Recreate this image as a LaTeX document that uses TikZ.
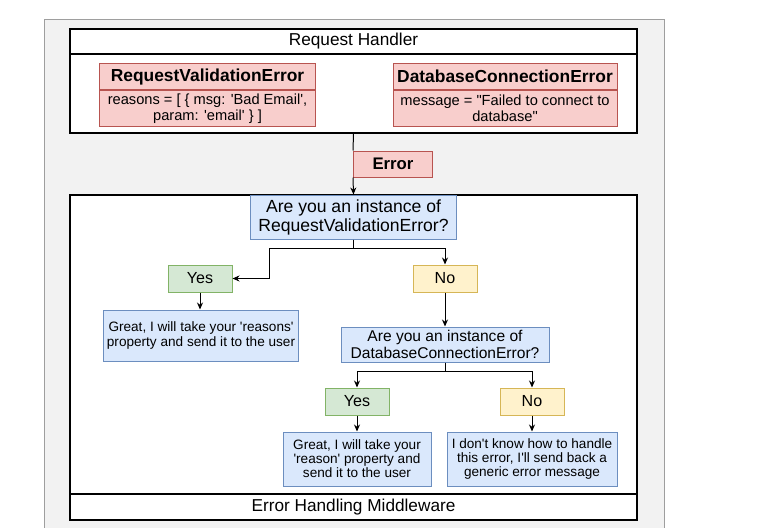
\documentclass[tikz,border=0pt]{standalone}
\usepackage{fontspec}
\setmainfont{Liberation Sans}
\usetikzlibrary{positioning, arrows.meta, calc}
\definecolor{redfill}{HTML}{F8CECC}
\definecolor{redline}{HTML}{B85450}
\definecolor{bluefill}{HTML}{DAE8FC}
\definecolor{blueline}{HTML}{6C8EBF}
\definecolor{greenfill}{HTML}{D5E8D4}
\definecolor{greenline}{HTML}{82B366}
\definecolor{yellowfill}{HTML}{FFF2CC}
\definecolor{yellowline}{HTML}{D6B656}
\definecolor{pagegray}{HTML}{F2F2F2}
\definecolor{pageline}{HTML}{9E9E9E}
\newcommand{\sq}{\textquotesingle}
\newcommand{\dq}{\textquotedbl}

\begin{document}
\begin{tikzpicture}[x=0.03cm, y=-0.03cm, >={Stealth[length=2.1mm, width=1.8mm]}, line width=0.85pt, inner sep=0pt]
\tikzset{
    container/.style={draw=black, fill=white, line width=1pt, minimum width=17.01cm},
    strip/.style={draw=black, line width=1pt, minimum width=17.01cm, font={\fontsize{14.7}{16}\selectfont}},
    redhead/.style={draw=redline, fill=redfill, minimum height=0.78cm, font={\bfseries\fontsize{14.85}{16}\selectfont}},
    redbody/.style={draw=redline, fill=redfill, minimum height=1.08cm, align=center, font={\fontsize{12.5}{13.7}\selectfont}},
    question/.style={draw=blueline, fill=bluefill, align=center},
    answer/.style={draw=blueline, fill=bluefill, align=center, font={\fontsize{11.6}{12}\selectfont}},
    yesbox/.style={draw=greenline, fill=greenfill, minimum width=1.92cm, minimum height=0.81cm, font={\fontsize{13.7}{15}\selectfont}},
    nobox/.style={draw=yellowline, fill=yellowfill, minimum width=1.92cm, minimum height=0.81cm, font={\fontsize{13.7}{15}\selectfont}}
}
\useasboundingbox (0,0) rectangle (762,527);
\fill[white] (0,0) rectangle (762,527);
% page behind the diagram
\fill[pagegray] (44,19) rectangle (664,530);
\draw[pageline] (44,530) -- (44,19) -- (664,19) -- (664,530);

% request handler
\node[container, minimum height=3.12cm] (Handler) at (353.5, 81) {};
\node[strip, minimum height=0.75cm, below=0pt of Handler.north] (HandlerTitle) {Request Handler};
\node[redhead, minimum width=6.45cm] (RveHead) at (207.5, 76.5) {RequestValidationError};
\node[redbody, minimum width=6.45cm, below=0pt of RveHead] (RveBody) {reasons = [ \{ msg: \sq Bad Email\sq,\\param: \sq email\sq\ \} ]};
\node[redhead, minimum width=6.72cm] (DceHead) at (505, 76.5) {DatabaseConnectionError};
\node[redbody, minimum width=6.72cm, below=0pt of DceHead] (DceBody) {message = \dq Failed to connect to\\database\dq};

% error handling middleware
\node[container, minimum height=9.75cm] (Middleware) at (353.5, 357.5) {};
\node[strip, minimum height=0.78cm, above=0pt of Middleware.south] (MiddlewareTitle) {Error Handling Middleware};

\node[redhead, minimum width=2.37cm, font={\bfseries\fontsize{14.3}{16}\selectfont}] (Error) at (393, 164) {Error};
\draw (Handler.south) -- (Error.north west);

\node[question, minimum width=6.18cm, minimum height=1.32cm, font={\fontsize{15}{16.2}\selectfont}] (Q1) at (353.5, 217) {Are you an instance of\\RequestValidationError?};
\draw[->] (Error.south west) -- (Q1.north);

\node[yesbox] (Yes1) at (200, 278.5) {Yes};
\node[nobox] (No1) at (445, 278.5) {No};
\node[answer, minimum width=5.82cm, minimum height=1.53cm] (Great1) at (201, 335.5) {Great, I will take your \sq reasons\sq\\property and send it to the user};
\node[question, minimum width=6.24cm, minimum height=1.05cm, font={\fontsize{13.3}{14.5}\selectfont}] (Q2) at (445, 344.5) {Are you an instance of\\DatabaseConnectionError?};
\draw[->] (Q1.south) -- ++(0,9) -| ([xshift=1.11cm]Yes1.east) -- (Yes1.east);
\draw[->] (Q1.south) -- ++(0,9) -| (No1.north);
\draw[->] (Yes1.south) -- (Yes1.south |- Great1.north);
\draw[->] (No1.south) -- (Q2.north);

\node[yesbox] (Yes2) at (357, 401.5) {Yes};
\node[nobox] (No2) at (532, 401.5) {No};
\node[answer, minimum width=4.44cm, minimum height=1.62cm] (Great2) at (357, 459) {Great, I will take your\\\sq reason\sq\ property and\\send it to the user};
\node[answer, minimum width=5.1cm, minimum height=1.62cm] (Generic) at (532, 459) {I don\sq t know how to handle\\this error, I\sq ll send back a\\generic error message};
\draw[->] (Q2.south) -- ++(0,9) -| (Yes2.north);
\draw[->] (Q2.south) -- ++(0,9) -| (No2.north);
\draw[->] (Yes2.south) -- (Great2.north);
\draw[->] (No2.south) -- (Generic.north);
\end{tikzpicture}
\end{document}
